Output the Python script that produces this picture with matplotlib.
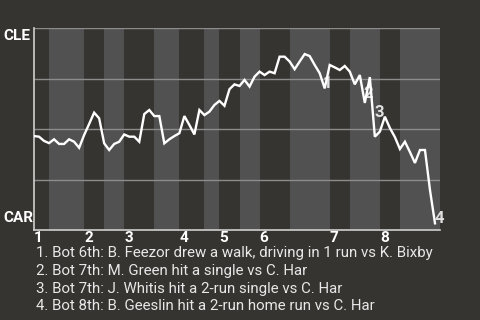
import matplotlib
matplotlib.use('Agg')
import matplotlib.pyplot as plt

plt.rcParams['font.family'] = ['Roboto', 'DejaVu Sans']

# -------------------- data --------------------
# win probability (1 = CLE, 0 = CAR), one value per play
win_prob = [0.465, 0.462, 0.441, 0.430, 0.449, 0.426, 0.426, 0.449, 0.437, 0.407,
            0.470, 0.525, 0.581, 0.553, 0.429, 0.396, 0.426, 0.437, 0.473, 0.462,
            0.462, 0.437, 0.574, 0.594, 0.564, 0.564, 0.429, 0.449, 0.465, 0.479,
            0.564, 0.520, 0.473, 0.594, 0.569, 0.586, 0.619, 0.639, 0.615, 0.697,
            0.721, 0.713, 0.743, 0.710, 0.759, 0.784, 0.767, 0.784, 0.776, 0.858,
            0.858, 0.834, 0.796, 0.834, 0.871, 0.861, 0.817, 0.776, 0.701, 0.817,
            0.805, 0.792, 0.812, 0.784, 0.721, 0.767, 0.629, 0.757, 0.462, 0.487,
            0.561, 0.505, 0.460, 0.401, 0.437, 0.386, 0.332, 0.396, 0.396, 0.198,
            0.033]

# half-inning boundaries (play index) and inning labels
half_innings = [0, 3, 10, 14, 18, 24, 29, 34, 37, 41, 45, 51, 59, 63, 69, 73, 81]
inning_labels = ['1', '2', '3', '4', '5', '6', '7', '8']

# key events: label, play position, win prob position
event_ids = ['1', '2', '3', '4']
event_x = [58.6, 66.6, 68.8, 80.8]
event_y = [0.725, 0.678, 0.584, 0.059]
event_text = [
    "1. Bot 6th: B. Feezor drew a walk, driving in 1 run vs K. Bixby",
    "2. Bot 7th: M. Green hit a single vs C. Har",
    "3. Bot 7th: J. Whitis hit a 2-run single vs C. Har",
    "4. Bot 8th: B. Geeslin hit a 2-run home run vs C. Har",
]

# -------------------- plot --------------------
bg = '#363430'
light = '#515151'

fig = plt.figure(figsize=(4.8, 3.2), dpi=100, facecolor=bg)
ax = fig.add_axes([34 / 480, 90 / 320, 406 / 480, 202 / 320])
ax.set_facecolor(bg)

# bottom halves shaded lighter
for i in range(0, len(half_innings) - 1, 2):
    ax.axvspan(half_innings[i + 1], half_innings[i + 2], color=light, lw=0, zorder=0)

for yv in [0.25, 0.5, 0.75, 1.0]:
    ax.axhline(yv, color='#8c8c8c', lw=1, zorder=1)

ax.plot(range(len(win_prob)), win_prob, color='white', lw=1.7, zorder=3,
        solid_joinstyle='miter')

for lab, ex, ey in zip(event_ids, event_x, event_y):
    ax.text(ex, ey, lab, color='#e0e0e0', fontsize=12, fontweight='bold',
            ha='center', va='center', zorder=2)

ax.set_xlim(0, 81)
ax.set_ylim(0, 1)
for s in ['top', 'right']:
    ax.spines[s].set_visible(False)
for s in ['left', 'bottom']:
    ax.spines[s].set_color('#cfcfcf')
    ax.spines[s].set_linewidth(1.2)

ax.set_yticks([])
ax.set_xticks(half_innings[0:-1:2])
ax.set_xticklabels(inning_labels, ha='left', color='white', fontsize=11,
                   fontweight='bold')
ax.tick_params(axis='x', length=0, pad=1)

fig.text(3 / 480, 1 - 28.5 / 320, 'CLE', color='white', fontsize=11,
         fontweight='bold', ha='left', va='top')
fig.text(3 / 480, 1 - 225 / 320, 'CAR', color='white', fontsize=11,
         fontweight='bold', ha='left', va='bottom')

for k, t in enumerate(event_text):
    fig.text(36 / 480, 1 - (253 + 17.8 * k) / 320, t, color='#e8e8e8',
             fontsize=10.8, ha='left', va='center')

fig.savefig('out.png', dpi=100, facecolor=bg)
